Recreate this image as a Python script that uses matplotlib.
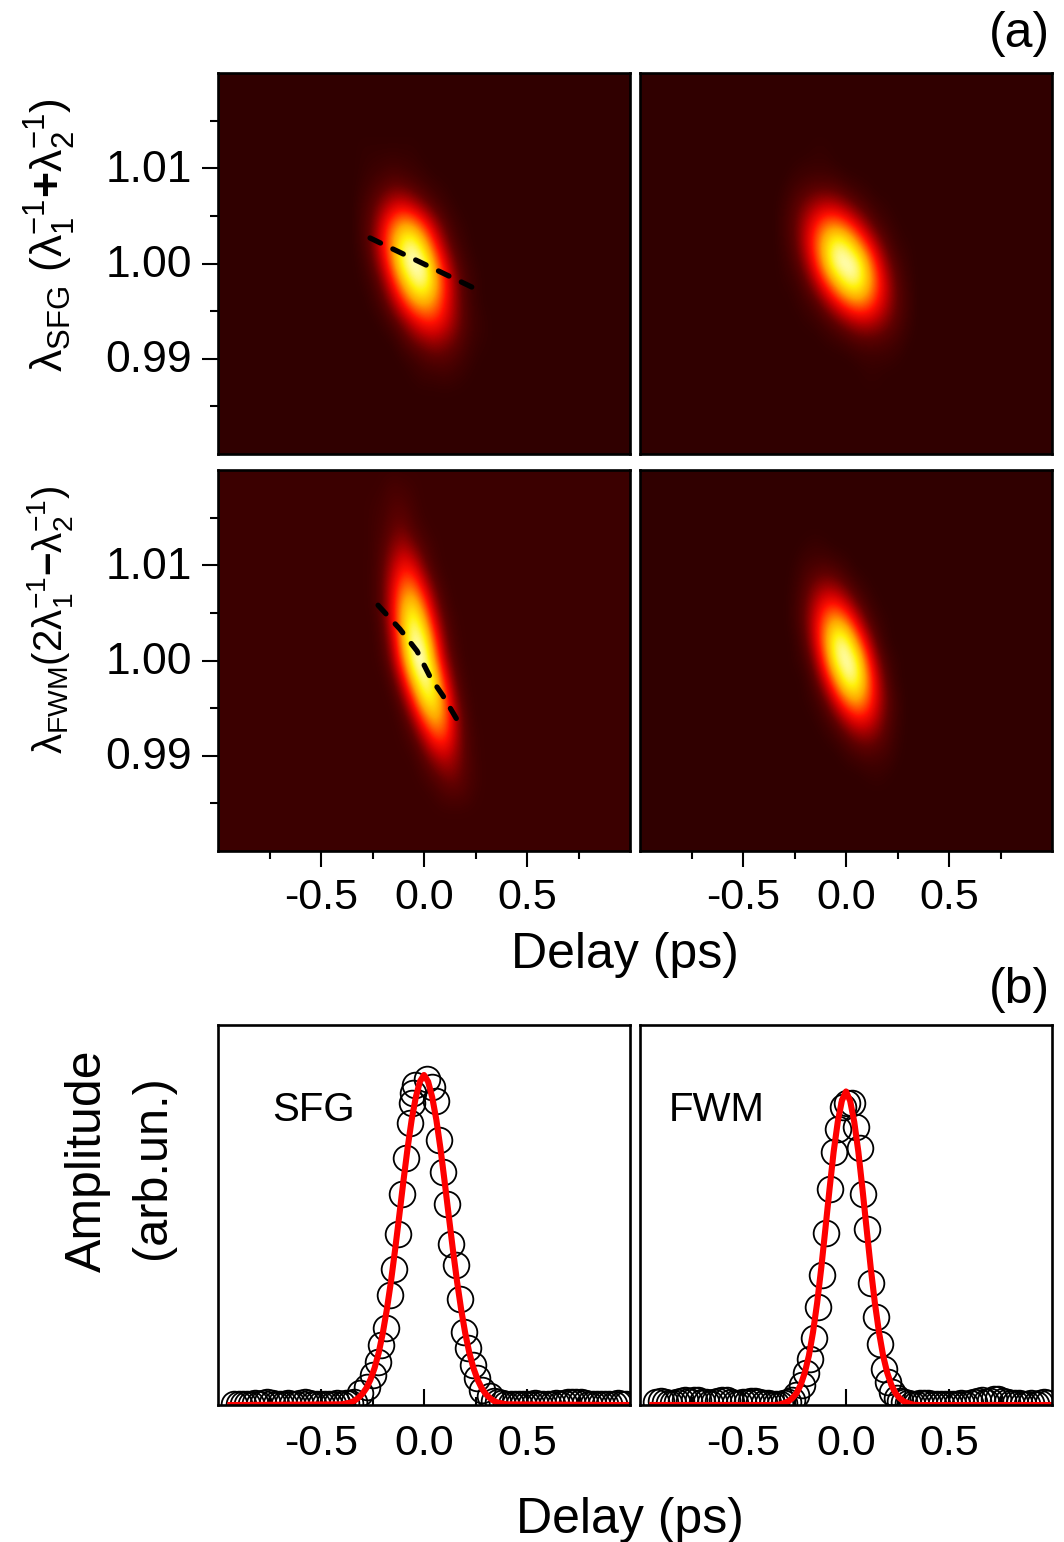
import numpy as np
import matplotlib
matplotlib.use("Agg")
import matplotlib.pyplot as plt
from matplotlib.colors import LinearSegmentedColormap
from matplotlib.ticker import FixedLocator, NullFormatter, NullLocator
from matplotlib.transforms import ScaledTranslation

plt.rcParams['font.family'] = ['Liberation Sans', 'DejaVu Sans']
plt.rcParams['mathtext.fontset'] = 'custom'
plt.rcParams['mathtext.rm'] = 'Liberation Sans'
plt.rcParams['mathtext.it'] = 'Liberation Sans'
plt.rcParams['mathtext.bf'] = 'Liberation Sans:bold'

W, H = 1064, 1542

# ---------- heat-map cells ----------
map_delays = [-0.30, -0.25, -0.20, -0.15, -0.10, -0.05, 0.0, 0.05, 0.10, 0.15, 0.20, 0.25, 0.30]
sfg_wavelengths = [1.012, 1.010, 1.008, 1.006, 1.004, 1.002, 1.000, 0.998, 0.996, 0.994, 0.992, 0.990, 0.988]
sfg_measured = [
    [.01, .01, .01, .01, .01, .01, 0, 0, 0, 0, 0, 0, 0],
    [.01, .02, .03, .04, .03, .02, .01, 0, 0, 0, 0, 0, 0],
    [.02, .05, .08, .11, .10, .07, .04, .02, .01, 0, 0, 0, 0],
    [.04, .09, .18, .27, .30, .23, .14, .07, .03, .01, 0, 0, 0],
    [.05, .12, .30, .50, .64, .59, .41, .22, .09, .03, .01, 0, 0],
    [.04, .13, .33, .62, .87, .92, .70, .40, .18, .06, .02, 0, 0],
    [.02, .09, .25, .54, .88, 1.0, .93, .60, .31, .12, .04, .01, 0],
    [.01, .04, .14, .35, .64, .88, .92, .70, .40, .18, .06, .02, 0],
    [0, .02, .07, .19, .38, .58, .66, .57, .37, .19, .07, .02, 0],
    [0, 0, .02, .07, .16, .28, .38, .39, .30, .18, .08, .03, .01],
    [0, 0, 0, .01, .06, .12, .17, .20, .17, .12, .06, .02, .01],
    [0, 0, 0, 0, .01, .03, .06, .08, .08, .06, .03, .01, 0],
    [0, 0, 0, 0, 0, .01, .02, .02, .03, .02, .01, 0, 0],
]
sfg_simulated = [
    [0, 0, 0, .01, .01, 0, 0, 0, 0, 0, 0, 0, 0],
    [0, .01, .02, .02, .02, .01, 0, 0, 0, 0, 0, 0, 0],
    [.01, .04, .06, .08, .08, .07, .04, .02, .01, 0, 0, 0, 0],
    [.03, .08, .145, .21, .25, .23, .17, .10, .05, .02, .01, 0, 0],
    [.04, .10, .22, .37, .52, .56, .46, .31, .17, .07, .03, .01, 0],
    [.03, .09, .23, .45, .72, .90, .86, .64, .40, .20, .08, .02, .01],
    [.017, .06, .16, .36, .66, .95, 1.0, .95, .66, .36, .16, .06, .017],
    [.01, .02, .08, .20, .40, .64, .86, .90, .72, .45, .23, .09, .03],
    [0, .01, .03, .07, .17, .31, .46, .56, .52, .37, .22, .10, .04],
    [0, 0, .01, .02, .05, .10, .17, .23, .25, .21, .145, .08, .03],
    [0, 0, 0, 0, .01, .02, .04, .07, .08, .08, .06, .04, .01],
    [0, 0, 0, 0, 0, 0, 0, .01, .02, .02, .02, .01, 0],
    [0, 0, 0, 0, 0, 0, 0, 0, .01, .01, 0, 0, 0],
]
fwm_wavelengths = [1.018, 1.016, 1.014, 1.012, 1.010, 1.008, 1.006, 1.004, 1.002, 1.000,
                   0.998, 0.996, 0.994, 0.992, 0.990, 0.988, 0.986]
fwm_measured = [
    [0, 0, .01, .03, .02, .01, 0, 0, 0, 0, 0, 0, 0],
    [0, .01, .02, .05, .05, .02, 0, 0, 0, 0, 0, 0, 0],
    [0, .01, .03, .08, .09, .04, .01, 0, 0, 0, 0, 0, 0],
    [0, .01, .05, .13, .18, .11, .04, .01, 0, 0, 0, 0, 0],
    [0, .01, .07, .20, .32, .26, .10, .02, 0, 0, 0, 0, 0],
    [0, .01, .08, .27, .47, .46, .24, .07, .01, 0, 0, 0, 0],
    [0, .01, .08, .30, .62, .70, .44, .16, .03, 0, 0, 0, 0],
    [0, 0, .06, .29, .68, .90, .66, .28, .07, .01, 0, 0, 0],
    [0, 0, .04, .22, .64, .98, .88, .44, .12, .02, 0, 0, 0],
    [0, 0, .02, .15, .50, .95, 1.0, .58, .19, .04, 0, 0, 0],
    [0, 0, 0, .06, .28, .70, .98, .78, .34, .08, .01, 0, 0],
    [0, 0, 0, .01, .12, .40, .78, .82, .47, .15, .02, 0, 0],
    [0, 0, 0, 0, .03, .17, .46, .66, .52, .21, .05, 0, 0],
    [0, 0, 0, 0, .01, .05, .20, .40, .42, .22, .06, .01, 0],
    [0, 0, 0, 0, 0, .01, .07, .17, .24, .17, .07, .01, 0],
    [0, 0, 0, 0, 0, 0, .02, .06, .11, .12, .06, .02, 0],
    [0, 0, 0, 0, 0, 0, 0, .01, .04, .05, .04, .01, 0],
]
fwm_simulated = [
    [0, 0, .01, .02, .01, 0, 0, 0, 0, 0, 0, 0, 0],
    [0, .01, .04, .05, .06, .04, .02, 0, 0, 0, 0, 0, 0],
    [0, .02, .07, .13, .16, .14, .08, .03, .01, 0, 0, 0, 0],
    [0, .03, .10, .22, .34, .35, .24, .11, .04, .01, 0, 0, 0],
    [0, .03, .11, .28, .52, .66, .54, .30, .11, .03, .01, 0, 0],
    [0, .01, .08, .26, .58, .90, .90, .58, .27, .08, .01, 0, 0],
    [0, .01, .04, .17, .46, .86, 1.0, .86, .46, .17, .04, .01, 0],
    [0, 0, .01, .08, .27, .58, .90, .90, .58, .26, .08, .01, 0],
    [0, 0, .01, .03, .11, .30, .54, .66, .52, .28, .11, .03, 0],
    [0, 0, 0, .01, .04, .11, .24, .35, .34, .22, .10, .03, 0],
    [0, 0, 0, 0, .01, .03, .08, .14, .16, .13, .07, .02, 0],
    [0, 0, 0, 0, 0, 0, .02, .04, .06, .05, .04, .01, 0],
    [0, 0, 0, 0, 0, 0, 0, 0, .01, .02, .01, 0, 0],
]
background_levels = [0.0, 0.0, 0.025, 0.0]

# ---------- dashed ridge lines ----------
sfg_ridge_delay = [-0.262, 0.252]
sfg_ridge_wl = [1.00268, 0.99732]
fwm_ridge_delay = [-0.223, -0.117, -0.034, 0.029, 0.092, 0.160]
fwm_ridge_wl = [1.0058, 1.0033, 1.0010, 0.9983, 0.9963, 0.9938]

# ---------- profiles ----------
sfg_peak_delay = [-0.311, -0.278, -0.246, -0.225, -0.207, -0.186, -0.165, -0.146, -0.125, -0.107,
                  -0.087, -0.068, -0.060, -0.052, -0.044, 0.013, 0.037, 0.058, 0.074, 0.094, 0.113,
                  0.133, 0.154, 0.173, 0.194, 0.215, 0.236, 0.256, 0.280, 0.320]
sfg_peak_amp = [.035, .056, .091, .131, .182, .234, .333, .412, .517, .639,
                .750, .854, .914, .945, .970, .987, .965, .922, .803, .707, .608,
                .488, .425, .321, .222, .174, .122, .081, .046, .026]
fwm_peak_delay = [-0.244, -0.215, -0.196, -0.175, -0.155, -0.134, -0.115, -0.097, -0.078, -0.058,
                  -0.037, -0.016, 0.003, 0.028, 0.047, 0.068, 0.084, 0.103, 0.123, 0.144, 0.165,
                  0.184, 0.205, 0.225, 0.246]
fwm_peak_amp = [.030, .060, .096, .139, .204, .296, .394, .520, .654, .768,
                .836, .904, .916, .914, .843, .778, .640, .532, .369, .268, .184,
                .108, .071, .040, .020]
sfg_tail_left = [-0.92, -0.90, -0.88, -0.86, -0.84, -0.82, -0.80, -0.78, -0.76, -0.74, -0.72, -0.70,
                 -0.68, -0.66, -0.64, -0.62, -0.60, -0.58, -0.56, -0.54, -0.52, -0.50, -0.48, -0.46,
                 -0.44, -0.42, -0.40, -0.38, -0.36, -0.34]
sfg_tail_left_amp = [.003, .004, .004, .003, .004, .005, .004, .006, .008, .006, .004, .003,
                     .004, .005, .004, .004, .006, .008, .006, .004, .003, .004, .004, .003,
                     .004, .005, .004, .005, .006, .010]
sfg_tail_right = [0.34, 0.36, 0.38, 0.40, 0.42, 0.44, 0.46, 0.48, 0.50, 0.52, 0.54, 0.56, 0.58,
                  0.60, 0.62, 0.64, 0.66, 0.68, 0.70, 0.72, 0.74, 0.76, 0.78, 0.80, 0.82, 0.84,
                  0.86, 0.88, 0.90, 0.92, 0.94, 0.96, 0.98]
sfg_tail_right_amp = [.012, .008, .005, .004, .003, .004, .004, .003, .004, .004, .005, .004, .003,
                      .004, .004, .005, .004, .006, .008, .010, .008, .009, .006, .004, .004, .003,
                      .004, .004, .003, .004, .005, .004, .004]
fwm_tail_left = [-0.92, -0.90, -0.88, -0.86, -0.84, -0.82, -0.80, -0.78, -0.76, -0.74, -0.72, -0.70,
                 -0.68, -0.66, -0.64, -0.62, -0.60, -0.58, -0.56, -0.54, -0.52, -0.50, -0.48, -0.46,
                 -0.44, -0.42, -0.40, -0.38, -0.36, -0.34, -0.32, -0.30, -0.28, -0.26]
fwm_tail_left_amp = [.008, .012, .010, .006, .005, .008, .012, .014, .012, .016, .014, .010,
                     .008, .006, .008, .012, .016, .014, .010, .006, .005, .008, .010, .012,
                     .012, .010, .006, .005, .004, .004, .004, .005, .010, .016]
fwm_tail_right = [0.26, 0.28, 0.30, 0.32, 0.34, 0.36, 0.38, 0.40, 0.42, 0.44, 0.46, 0.48, 0.50, 0.52,
                  0.54, 0.56, 0.58, 0.60, 0.62, 0.64, 0.66, 0.68, 0.70, 0.72, 0.74, 0.76, 0.78,
                  0.80, 0.82, 0.84, 0.86, 0.88, 0.90, 0.92, 0.94, 0.96, 0.98]
fwm_tail_right_amp = [.012, .008, .005, .004, .004, .005, .006, .006, .004, .003, .003, .004, .004, .003,
                      .004, .005, .004, .006, .008, .012, .014, .010, .012, .018, .018, .012, .008,
                      .006, .005, .006, .004, .004, .005, .004, .006, .008, .006]

fit_delay = [-0.94, -0.40, -0.36, -0.34, -0.32, -0.30, -0.28, -0.26, -0.24, -0.22, -0.20, -0.18, -0.16,
             -0.14, -0.12, -0.10, -0.08, -0.06, -0.04, -0.02, 0.0, 0.02, 0.04, 0.06, 0.08, 0.10, 0.12,
             0.14, 0.16, 0.18, 0.20, 0.22, 0.24, 0.26, 0.28, 0.30, 0.32, 0.34, 0.36, 0.40, 1.0]
sfg_fit = [0, .002, .007, .012, .021, .033, .051, .077, .112, .158, .218, .291, .376,
           .472, .574, .678, .777, .864, .932, .980, 1.0, .980, .932, .864, .777, .678, .574,
           .472, .376, .291, .218, .158, .112, .077, .051, .033, .021, .012, .007, .002, 0]
fwm_fit = [0, 0, 0, 0, .002, .006, .011, .021, .036, .061, .098, .150, .221,
           .310, .416, .534, .654, .767, .858, .922, .95, .922, .858, .767, .654, .534, .416,
           .310, .221, .150, .098, .061, .036, .021, .011, .006, .002, 0, 0, 0, 0]

major_x = [-0.5, 0.0, 0.5]
minor_x = [-0.75, -0.25, 0.25, 0.75]
major_y = [0.99, 1.00, 1.01]
minor_y = [0.985, 0.995, 1.005, 1.015]
x_labels = ['-0.5', '0.0', '0.5']
y_labels = ['0.99', '1.00', '1.01']

cmap = LinearSegmentedColormap.from_list('thermal', [
    (0.00, (48/255, 0, 0)),
    (0.10, (95/255, 0, 0)),
    (0.25, (200/255, 0, 0)),
    (0.36, (255/255, 15/255, 0)),
    (0.60, (255/255, 165/255, 0)),
    (0.78, (255/255, 240/255, 10/255)),
    (0.98, (255/255, 255/255, 210/255)),
    (1.00, (255/255, 255/255, 225/255)),
])

fig = plt.figure(figsize=(W/100, H/100), dpi=100, facecolor='white')


def make_axes(left, top, right, bottom):
    return fig.add_axes([left/W, 1-bottom/H, (right-left)/W, (bottom-top)/H])


def style(ax, show_x, show_y, tick_dir='out'):
    for s in ax.spines.values():
        s.set_linewidth(1.9)
        s.set_zorder(10)
    ax.set_xlim(-1, 1)
    if show_x:
        ax.xaxis.set_major_locator(FixedLocator(major_x))
        ax.xaxis.set_minor_locator(FixedLocator(minor_x))
        ax.xaxis.set_minor_formatter(NullFormatter())
        ax.set_xticklabels(x_labels)
        ax.tick_params(axis='x', which='major', direction=tick_dir, length=11.5, width=1.5,
                       labelsize=31, pad=14 if tick_dir == 'in' else 8, top=False)
        ax.tick_params(axis='x', which='minor', direction=tick_dir, length=5.8, width=1.5, top=False)
    else:
        ax.xaxis.set_major_locator(NullLocator())
        ax.xaxis.set_minor_locator(NullLocator())
    if show_y:
        ax.yaxis.set_major_locator(FixedLocator(major_y))
        ax.yaxis.set_minor_locator(FixedLocator(minor_y))
        ax.yaxis.set_minor_formatter(NullFormatter())
        ax.set_yticklabels(y_labels)
        ax.tick_params(axis='y', which='major', direction='out', length=11.5, width=1.5, labelsize=32, pad=7)
        ax.tick_params(axis='y', which='minor', direction='out', length=5.8, width=1.5)
        shift = ScaledTranslation(0, -1.5/72, fig.dpi_scale_trans)
        for lab in ax.get_yticklabels():
            lab.set_verticalalignment('center')
            lab.set_transform(lab.get_transform() + shift)
    else:
        ax.yaxis.set_major_locator(NullLocator())
        ax.yaxis.set_minor_locator(NullLocator())


def draw_map(ax, wavelengths, rows, bg):
    xs = np.round(np.arange(-1.0, 1.0001, 0.05), 3)
    ys = np.round(np.arange(0.98, 1.0201, 0.002), 3)
    grid = np.full((ys.size, xs.size), float(bg))
    for wl, row in zip(wavelengths, rows):
        i = int(np.argmin(np.abs(ys - wl)))
        for d, v in zip(map_delays, row):
            j = int(np.argmin(np.abs(xs - d)))
            grid[i, j] = bg + v * (1 - bg)
    ax.imshow(grid, origin='lower', aspect='auto', cmap=cmap, vmin=0, vmax=1,
              interpolation='bicubic', extent=[-1.025, 1.025, 0.979, 1.021])
    ax.set_ylim(0.98, 1.02)


def draw_ridge(ax, xs, ys):
    ax.plot(xs, ys, color='black', lw=3.8, dashes=(2.2, 2.6), dash_capstyle='round', zorder=5)


lefts = [(218, 630), (640, 1052)]
ax_a = make_axes(lefts[0][0], 73, lefts[0][1], 454)
ax_b = make_axes(lefts[1][0], 73, lefts[1][1], 454)
ax_c = make_axes(lefts[0][0], 470, lefts[0][1], 851)
ax_d = make_axes(lefts[1][0], 470, lefts[1][1], 851)
ax_e = make_axes(lefts[0][0], 1025, lefts[0][1], 1405)
ax_f = make_axes(lefts[1][0], 1025, lefts[1][1], 1405)

draw_map(ax_a, sfg_wavelengths, sfg_measured, background_levels[0])
draw_map(ax_b, sfg_wavelengths, sfg_simulated, background_levels[1])
draw_map(ax_c, fwm_wavelengths, fwm_measured, background_levels[2])
draw_map(ax_d, sfg_wavelengths, fwm_simulated, background_levels[3])
draw_ridge(ax_a, sfg_ridge_delay, sfg_ridge_wl)
draw_ridge(ax_c, fwm_ridge_delay, fwm_ridge_wl)

style(ax_a, False, True)
style(ax_b, False, False)
style(ax_c, True, True)
style(ax_d, True, False)


def draw_profile(ax, groups, fit, label, label_x):
    x = np.concatenate([g[0] for g in groups])
    y = np.concatenate([g[1] for g in groups])
    order = np.argsort(x)
    ax.plot(x[order], y[order], ls='none', marker='o', ms=18.5, mfc='none', mec='black', mew=1.3, zorder=2)
    ax.plot(fit_delay, fit, color='#fe0000', lw=4.4, solid_joinstyle='round', zorder=3)
    ax.set_ylim(0, 380/330)
    ax.text(label_x, 0.895, label, fontsize=29, ha='left', va='center', color='black')
    style(ax, True, False, tick_dir='in')


draw_profile(ax_e, [(sfg_tail_left, sfg_tail_left_amp), (sfg_peak_delay, sfg_peak_amp),
                    (sfg_tail_right, sfg_tail_right_amp)], sfg_fit, 'SFG', -0.735)
draw_profile(ax_f, [(fwm_tail_left, fwm_tail_left_amp), (fwm_peak_delay, fwm_peak_amp),
                    (fwm_tail_right, fwm_tail_right_amp)], fwm_fit, 'FWM', -0.86)


def ftext(px, py, s, **kw):
    fig.text(px/W, 1-py/H, s, ha='center', va='center', **kw)


ftext(1019, 34, '(a)', fontsize=36)
ftext(1019, 990, '(b)', fontsize=36)
ftext(625, 955, 'Delay (ps)', fontsize=36)
ftext(630, 1520, 'Delay (ps)', fontsize=36)
ftext(50, 235, r'$\mathrm{\lambda_{SFG}\ (\lambda_1^{-1}\mathbf{+}\lambda_2^{-1})}$', fontsize=32, rotation=90)
ftext(50, 620, r'$\mathrm{\lambda_{FWM}(2\lambda_1^{-1}\mathbf{-}\lambda_2^{-1})}$', fontsize=29, rotation=90)
ftext(88, 1161, 'Amplitude', fontsize=36, rotation=90)
ftext(153, 1167, '(arb.un.)', fontsize=35, rotation=90)

fig.savefig('out.png', dpi=100, facecolor='white')
